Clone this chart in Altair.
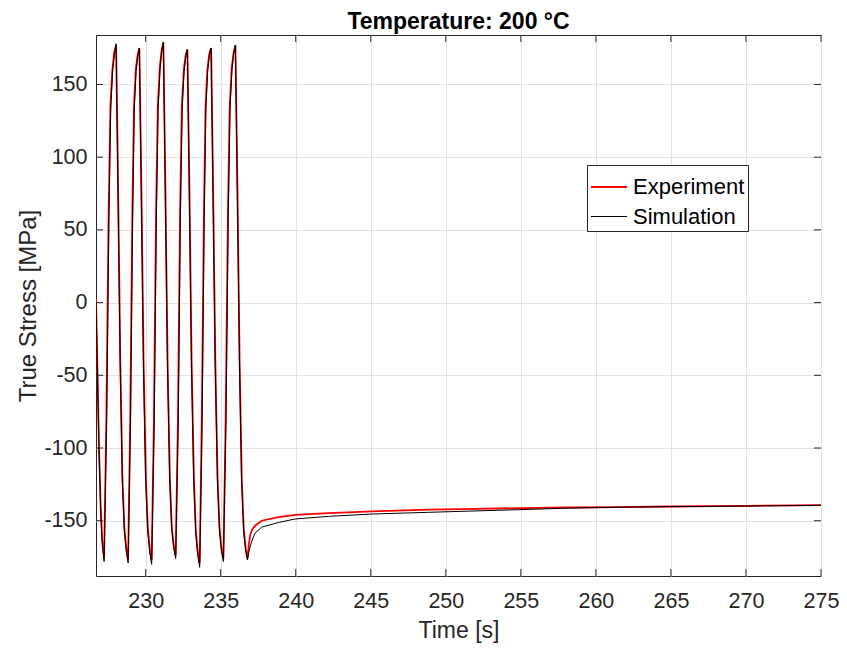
import altair as alt
import pandas as pd

# ---- data ----
exp_t = [226.69, 226.79, 226.89, 227.00, 227.10, 227.23,
         227.38, 227.53, 227.65, 227.78, 227.91, 228.03,
         228.15, 228.31, 228.45, 228.58, 228.71, 228.83,
         228.97, 229.11, 229.22, 229.34, 229.46, 229.58,
         229.70, 229.86, 230.01, 230.14, 230.27, 230.40,
         230.55, 230.69, 230.81, 230.94, 231.06, 231.18,
         231.30, 231.46, 231.61, 231.74, 231.87, 232.00,
         232.15, 232.29, 232.41, 232.54, 232.66, 232.78,
         232.90, 233.06, 233.21, 233.34, 233.47, 233.60,
         233.74, 233.88, 233.99, 234.11, 234.24, 234.36,
         234.48, 234.64, 234.79, 234.92, 235.05, 235.18,
         235.33, 235.48, 235.60, 235.73, 235.86, 235.98,
         236.10, 236.26, 236.40, 236.53, 236.66, 236.78,
         236.88, 236.96, 237.10, 237.29, 237.73, 238.85, 239.96,
         242.18, 245.07, 248.85, 252.0, 255.0, 258.0, 261.5,
         265.0, 270.0, 275.0]
exp_v = [3, -48, -99, -140, -163, -176,
         -80, 60, 135, 160, 172, 177,
         90, -40, -120, -155, -169, -177,
         -80, 60, 135, 160, 170, 175,
         90, -40, -120, -155, -169, -177,
         -80, 60, 135, 162, 173, 179,
         90, -40, -120, -155, -167, -174,
         -80, 60, 135, 160, 170, 174,
         90, -40, -120, -157, -171, -179,
         -80, 60, 135, 160, 171, 175,
         90, -40, -120, -155, -169, -176,
         -80, 60, 135, 161, 172, 177,
         90, -40, -120, -155, -169, -176,
         -166, -160, -156, -153.4, -150, -147.5, -146,
         -144.8, -143.6, -142.4, -141.8, -141.3, -140.9, -140.6,
         -140.2, -139.8, -139.2]

sim_t = [226.69, 226.79, 226.89, 227.00, 227.10, 227.23,
         227.40, 227.55, 227.67, 227.80, 227.92, 228.03,
         228.14, 228.30, 228.44, 228.58, 228.71, 228.83,
         228.99, 229.13, 229.24, 229.36, 229.47, 229.58,
         229.69, 229.85, 230.00, 230.14, 230.27, 230.40,
         230.57, 230.71, 230.83, 230.96, 231.07, 231.18,
         231.29, 231.45, 231.60, 231.74, 231.87, 232.00,
         232.17, 232.31, 232.43, 232.56, 232.67, 232.78,
         232.89, 233.05, 233.20, 233.34, 233.47, 233.60,
         233.76, 233.90, 234.01, 234.13, 234.25, 234.36,
         234.47, 234.63, 234.78, 234.92, 235.05, 235.18,
         235.35, 235.50, 235.62, 235.75, 235.87, 235.98,
         236.09, 236.25, 236.39, 236.53, 236.66, 236.78,
         236.90, 237.07, 237.29, 237.73, 238.85, 239.96, 242.18,
         245.07, 248.85, 251.5, 254.85, 258.0, 261.5, 265.0,
         270.0, 275.0]
sim_v = [0, -52, -102, -142, -165, -178,
         -82, 58, 133, 160, 172, 178,
         88, -42, -122, -157, -171, -179,
         -82, 58, 133, 159, 170, 175,
         88, -42, -122, -157, -172, -180,
         -82, 58, 133, 161, 173, 179,
         88, -42, -122, -156, -169, -176,
         -82, 58, 133, 159, 169, 174,
         88, -42, -122, -159, -174, -182,
         -82, 58, 133, 159, 171, 175,
         88, -42, -122, -157, -171, -178,
         -82, 58, 133, 160, 172, 177,
         88, -42, -122, -157, -170, -177,
         -170, -164, -158.5, -154.4, -151.2, -148.8, -147,
         -145.4, -144.2, -143.4, -142.4, -141.4, -140.7, -140.3,
         -139.9, -139.4]

series = ["Experiment", "Simulation"]
colors = ["#ff0000", "#000000"]
widths = [1.8, 1.0]
x_ticks = [230, 235, 240, 245, 250, 255, 260, 265, 270, 275]
y_ticks = [-150, -100, -50, 0, 50, 100, 150]
x_domain = [226.69, 275]
y_domain = [-188, 184]

W, H = 725, 541
FONT = "Liberation Sans"
AX = "#262626"

df = pd.concat([
    pd.DataFrame({"t": exp_t, "v": exp_v, "series": "Experiment"}),
    pd.DataFrame({"t": sim_t, "v": sim_v, "series": "Simulation"}),
], ignore_index=True)
xt = pd.DataFrame({"t": x_ticks})
yt = pd.DataFrame({"v": y_ticks})

xs = alt.Scale(domain=x_domain, nice=False, zero=False)
ys = alt.Scale(domain=y_domain, nice=False, zero=False)

x_axis = alt.Axis(values=x_ticks, grid=True, ticks=False, domain=False,
                  labelExpr="datum.value + ''", labelFlush=False,
                  labelFontSize=21.5, labelFont=FONT, labelColor=AX,
                  labelPadding=14, titleFontSize=23, titleFont=FONT,
                  titleColor=AX, titleFontWeight="normal",
                  titleBaseline="alphabetic", titleY=61)
y_axis = alt.Axis(values=y_ticks, grid=True, ticks=False, domain=False,
                  labelExpr="datum.value + ''", labelFlush=False,
                  labelFontSize=21.5, labelFont=FONT, labelColor=AX,
                  labelPadding=9, titleFontSize=24, titleFont=FONT,
                  titleColor=AX, titleFontWeight="normal",
                  titleBaseline="alphabetic", titleX=-61)
X = dict(scale=xs, title="Time [s]", axis=x_axis)
Y = dict(scale=ys, title="True Stress [MPa]", axis=y_axis)

lines = alt.Chart(df).mark_line(clip=True).encode(
    x=alt.X("t:Q", **X),
    y=alt.Y("v:Q", **Y),
    color=alt.Color("series:N", scale=alt.Scale(domain=series, range=colors),
                    legend=alt.Legend(title=None, orient="none", legendX=491, legendY=130,
                                      strokeColor=AX, fillColor="white", padding=3,
                                      symbolType="stroke", symbolSize=1296,
                                      symbolStrokeWidth=1.3, labelFontSize=22,
                                      labelFont=FONT, labelColor="black",
                                      labelOffset=5, rowPadding=0)),
    strokeWidth=alt.StrokeWidth("series:N", scale=alt.Scale(domain=series, range=widths),
                                legend=None),
    order=alt.Order("t:Q"),
)

tick_style = dict(color=AX, strokeWidth=1)
xb = alt.Chart(xt).mark_rule(**tick_style).encode(
    x=alt.X("t:Q", **X), y=alt.value(H), y2=alt.value(H - 7))
xtp = alt.Chart(xt).mark_rule(**tick_style).encode(
    x=alt.X("t:Q", **X), y=alt.value(0), y2=alt.value(7))
yl = alt.Chart(yt).mark_rule(**tick_style).encode(
    y=alt.Y("v:Q", **Y), x=alt.value(0), x2=alt.value(7))
yr = alt.Chart(yt).mark_rule(**tick_style).encode(
    y=alt.Y("v:Q", **Y), x=alt.value(W - 7), x2=alt.value(W))

chart = alt.layer(lines, xb, xtp, yl, yr).properties(
    width=W, height=H,
    title=alt.TitleParams("Temperature: 200 °C", font=FONT, fontSize=23,
                          fontWeight="bold", color="black", anchor="middle",
                          offset=1),
    autosize=alt.AutoSizeParams(type="none"),
    padding={"left": 88, "top": 27, "right": 18, "bottom": 67},
).configure_view(stroke=AX, strokeWidth=1).configure_axis(
    gridColor="#e2e2e2", gridWidth=1, gridOpacity=1)

chart.save("out.html", embed_options={"renderer": "svg", "actions": False})
